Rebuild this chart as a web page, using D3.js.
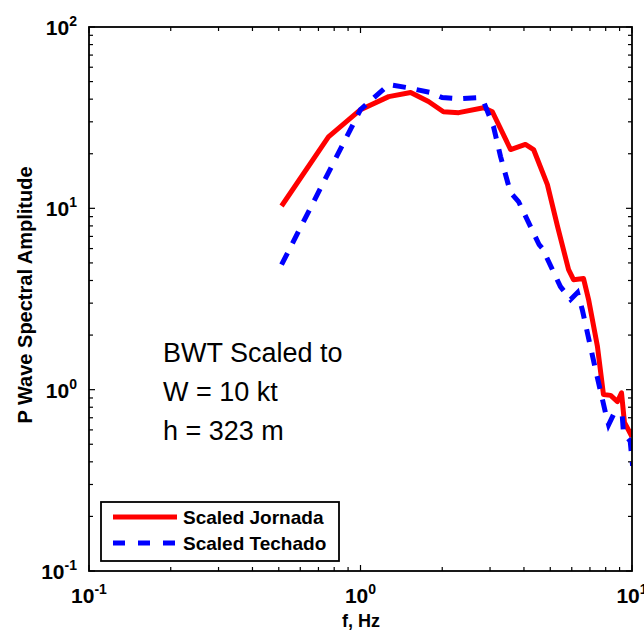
<!DOCTYPE html>
<html>
<head>
<meta charset="utf-8">
<script src="https://cdn.jsdelivr.net/npm/d3@7"></script>
<style>
body { margin: 0; background: #fff; overflow: hidden; }
text { font-family: "Liberation Sans", Arial, sans-serif; }
</style>
</head>
<body>
<div id="chart"></div>
<script>
// Scaled Jornada
var jornadaF = [0.512, 0.762, 1.0, 1.27, 1.53, 1.78, 2.02, 2.30, 2.84, 3.06, 3.57, 4.05, 4.34, 4.88, 5.32, 5.84, 6.09, 6.63, 6.92, 7.46, 7.85, 8.34, 8.84, 9.15, 9.38, 10.0];
var jornadaA = [10.3, 24.8, 35, 41.3, 43.5, 38.8, 34.1, 33.7, 35.9, 34.1, 21.1, 22.5, 21.1, 13.5, 7.93, 4.59, 4.04, 4.1, 3.14, 1.73, 0.94, 0.93, 0.86, 0.96, 0.66, 0.55];
// Scaled Techado
var techadoF = [0.512, 1.0, 1.27, 1.49, 1.81, 2.0, 2.28, 2.72, 2.84, 3.09, 3.28, 3.57, 3.82, 4.55, 4.68, 5.45, 5.94, 6.3, 6.56, 7.34, 7.98, 8.2, 8.55, 9.2, 9.3, 9.85, 10.05];
var techadoA = [4.89, 35, 48.1, 46.3, 43.5, 40.8, 40.2, 40.8, 38.8, 28.2, 19.3, 12.2, 10.9, 6.3, 6.0, 3.7, 3.14, 3.43, 2.76, 1.29, 0.75, 0.64, 0.73, 0.73, 0.58, 0.52, 0.38];

var xExp = [-1, 0, 1];
var yExp = [-1, 0, 1, 2];
var legendNames = ["Scaled Jornada", "Scaled Techado"];
var noteLines = ["BWT Scaled to", "W = 10 kt", "h = 323 m"];

var W = 644, H = 630;
var mL = 89, mR = 632, mT = 27, mB = 571;

var svg = d3.select("#chart").append("svg")
    .attr("width", W)
    .attr("height", H);

var x = d3.scaleLog().domain([0.1, 10]).range([mL, mR]);
var y = d3.scaleLog().domain([0.1, 100]).range([mB, mT]);

svg.append("clipPath").attr("id", "clip")
  .append("rect")
    .attr("x", mL).attr("y", mT)
    .attr("width", mR - mL).attr("height", mB - mT);

// minor + major ticks on all four sides
function logTicks(lo, hi) {
    var out = [];
    for (var e = lo; e < hi; e++) {
        for (var m = 1; m < 10; m++) out.push({v: m * Math.pow(10, e), major: m == 1});
    }
    out.push({v: Math.pow(10, hi), major: true});
    return out;
}
var xt = logTicks(-1, 1), yt = logTicks(-1, 2);
var ticks = svg.append("g").attr("stroke", "#000").attr("stroke-width", 1.2);
xt.forEach(function(t) {
    var px = x(t.v), len = t.major ? 6 : 4;
    ticks.append("line").attr("x1", px).attr("x2", px).attr("y1", mB).attr("y2", mB - len);
    ticks.append("line").attr("x1", px).attr("x2", px).attr("y1", mT).attr("y2", mT + len);
});
yt.forEach(function(t) {
    var py = y(t.v), len = t.major ? 6 : 4;
    ticks.append("line").attr("y1", py).attr("y2", py).attr("x1", mL).attr("x2", mL + len);
    ticks.append("line").attr("y1", py).attr("y2", py).attr("x1", mR).attr("x2", mR - len);
});

// data lines
var line = d3.line()
    .x(function(d) { return x(d[0]); })
    .y(function(d) { return y(d[1]); });

var plot = svg.append("g").attr("clip-path", "url(#clip)");
plot.append("path")
    .datum(d3.zip(jornadaF, jornadaA))
    .attr("d", line)
    .attr("fill", "none")
    .attr("stroke", "#ff0000")
    .attr("stroke-width", 5)
    .attr("stroke-linejoin", "round");
plot.append("path")
    .datum(d3.zip(techadoF, techadoA))
    .attr("d", line)
    .attr("fill", "none")
    .attr("stroke", "#0000ff")
    .attr("stroke-width", 5)
    .attr("stroke-dasharray", "13,11");

// frame
svg.append("rect")
    .attr("x", mL).attr("y", mT)
    .attr("width", mR - mL).attr("height", mB - mT)
    .attr("fill", "none").attr("stroke", "#000").attr("stroke-width", 1.8);

// tick labels
svg.selectAll(".xl").data(xExp).enter().append("text")
    .attr("class", "xl")
    .attr("x", function(d) { return x(Math.pow(10, d)); })
    .attr("y", mB + 32)
    .attr("text-anchor", "middle")
    .attr("font-size", 21).attr("font-weight", "bold")
    .each(function(d) {
        var t = d3.select(this);
        t.append("tspan").text("10");
        t.append("tspan").attr("dy", -9).attr("font-size", 14).text(d);
    });

svg.selectAll(".yl").data(yExp).enter().append("text")
    .attr("class", "yl")
    .attr("x", 77)
    .attr("y", function(d) { return y(Math.pow(10, d)) + 8; })
    .attr("text-anchor", "end")
    .attr("font-size", 21).attr("font-weight", "bold")
    .each(function(d) {
        var t = d3.select(this);
        t.append("tspan").text("10");
        t.append("tspan").attr("dy", -9).attr("font-size", 14).text(d);
    });

// axis titles
svg.append("text")
    .attr("x", 361).attr("y", 627)
    .attr("text-anchor", "middle")
    .attr("font-size", 18).attr("font-weight", "bold")
    .text("f, Hz");
svg.append("text")
    .attr("transform", "translate(32,295) rotate(-90)")
    .attr("text-anchor", "middle")
    .attr("font-size", 20).attr("font-weight", "bold")
    .text("P Wave Spectral Amplitude");

// annotation
svg.selectAll(".note").data(noteLines).enter().append("text")
    .attr("class", "note")
    .attr("x", 163)
    .attr("y", function(d, i) { return 362 + i * 39; })
    .attr("font-size", 27)
    .text(function(d) { return d; });

// legend
var lg = svg.append("g");
lg.append("rect")
    .attr("x", 101).attr("y", 502).attr("width", 238).attr("height", 59)
    .attr("fill", "#fff").attr("stroke", "#000").attr("stroke-width", 1.8);
var legColors = ["#ff0000", "#0000ff"], legDash = [null, "12,13"];
legendNames.forEach(function(n, i) {
    var ly = 517 + i * 26;
    lg.append("line")
        .attr("x1", 113).attr("x2", 177).attr("y1", ly).attr("y2", ly)
        .attr("stroke", legColors[i]).attr("stroke-width", 5)
        .attr("stroke-dasharray", legDash[i]);
    lg.append("text")
        .attr("x", 183).attr("y", ly + 7)
        .attr("font-size", 19).attr("font-weight", "bold")
        .text(n);
});
</script>
</body>
</html>
